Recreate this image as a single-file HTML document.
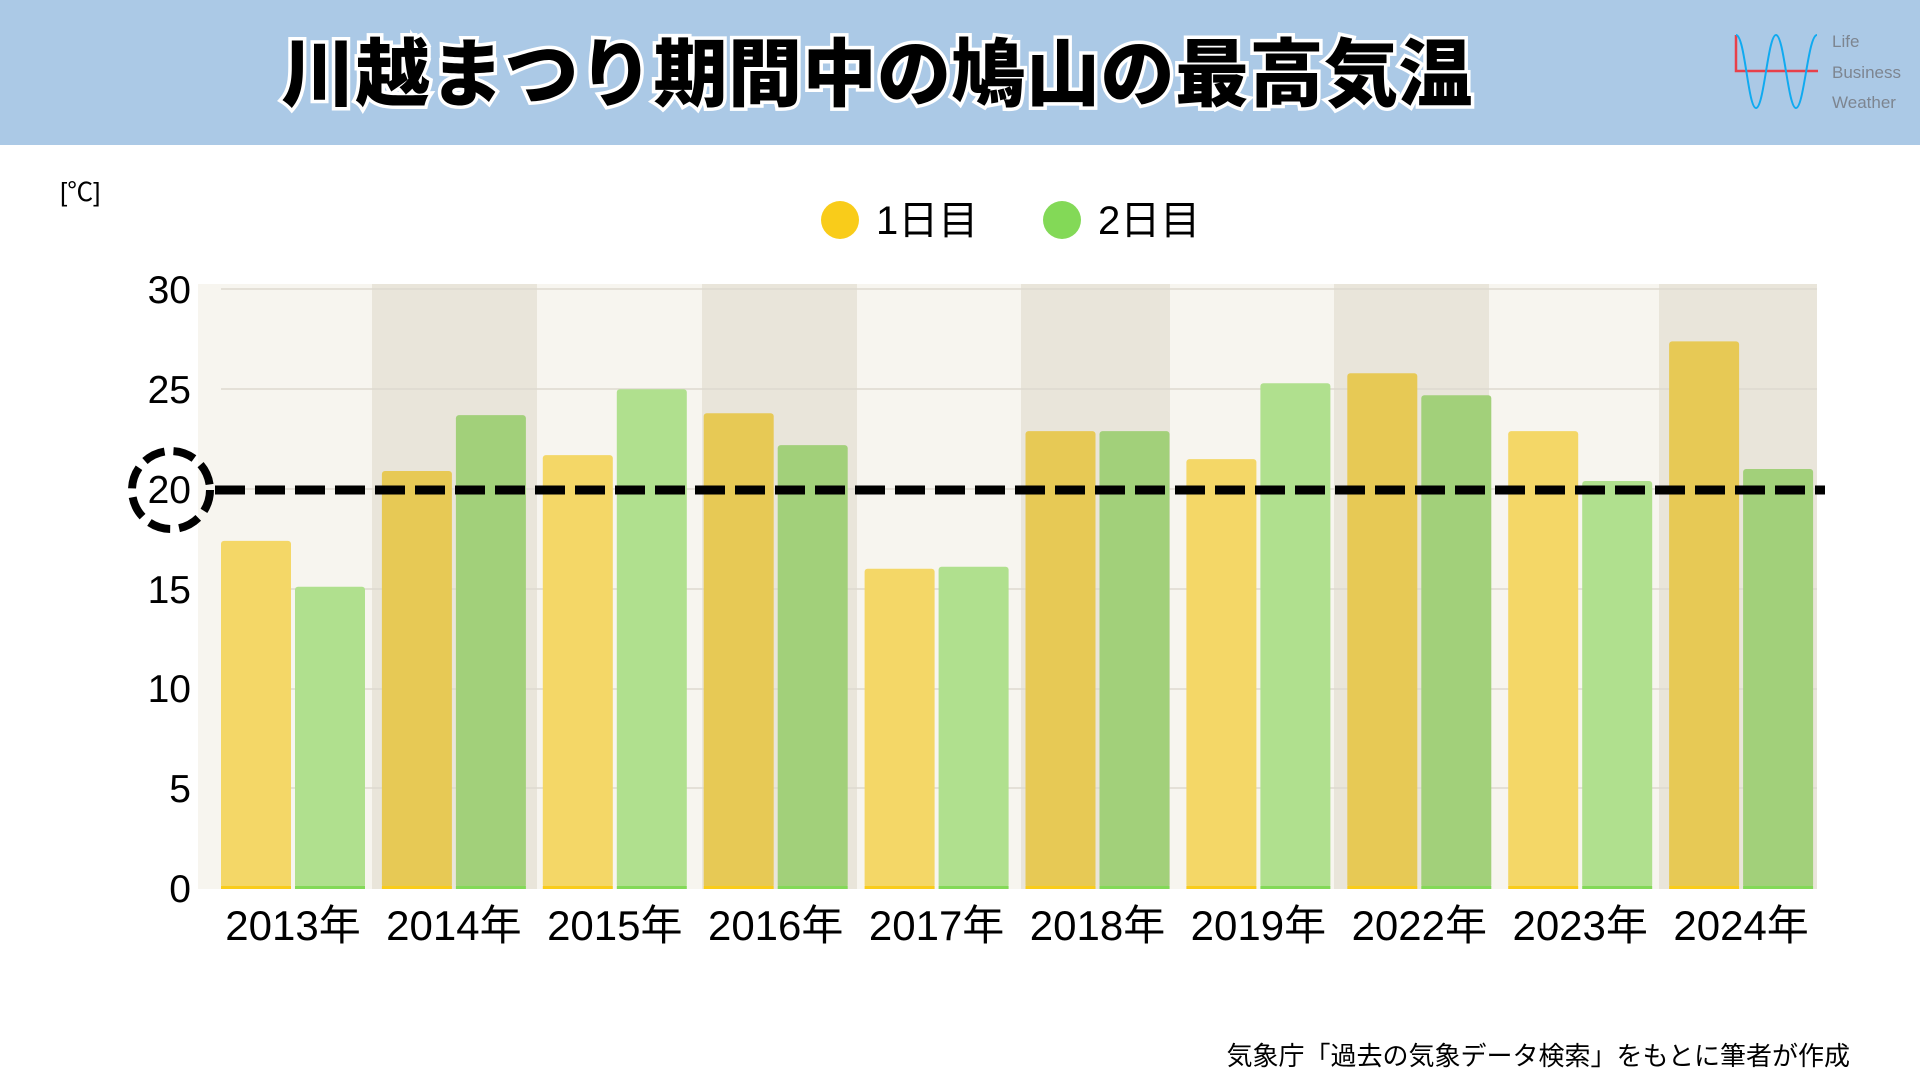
<!DOCTYPE html>
<html><head><meta charset="utf-8"><style>
html,body{margin:0;padding:0;background:#fff;}
svg{display:block;}
text{font-family:"Liberation Sans","Noto Sans CJK JP",sans-serif;}
</style></head><body>
<svg width="1920" height="1080" viewBox="0 0 1920 1080" xmlns="http://www.w3.org/2000/svg">
<rect x="0" y="0" width="1920" height="145" fill="#abc9e6"/>
<text x="877" y="100" text-anchor="middle" font-size="74" font-weight="900" letter-spacing="0.5" fill="#000" stroke="#fff" stroke-width="7" paint-order="stroke" style="font-family:'Noto Sans CJK JP',sans-serif;font-weight:900">川越まつり期間中の鳩山の最高気温</text>
<path d="M1736 35 V71 H1818" stroke="#e8404a" stroke-width="2.5" fill="none"/>
<path d="M1736 35 C1745 35,1748 108,1756 108 C1764 108,1768 35,1776 35 C1784 35,1788 108,1796 108 C1804 108,1808 35,1817 35" stroke="#10aaf0" stroke-width="2" fill="none"/>
<text x="1832" y="47" font-size="17" fill="#7d8590">Life</text>
<text x="1832" y="78" font-size="17" fill="#7d8590">Business</text>
<text x="1832" y="108" font-size="17" fill="#7d8590">Weather</text>
<text x="60" y="201" font-size="26" fill="#000">[℃]</text>
<circle cx="840" cy="220" r="19" fill="#f9cc1a"/>
<text x="876" y="234" font-size="40" fill="#000">1日目</text>
<circle cx="1062" cy="220" r="19" fill="#83d957"/>
<text x="1098" y="234" font-size="40" fill="#000">2日目</text>
<rect x="198" y="284" width="1619" height="605" fill="#f7f5ef"/>
<g fill="#e9e5da">
<rect x="372" y="284" width="165" height="605"/>
<rect x="702" y="284" width="155" height="605"/>
<rect x="1021" y="284" width="149" height="605"/>
<rect x="1334" y="284" width="155" height="605"/>
<rect x="1659" y="284" width="158" height="605"/>
</g>
<g stroke="#ddd9cf" stroke-width="1.5">
<line x1="221" x2="1817" y1="289" y2="289"/>
<line x1="221" x2="1817" y1="389" y2="389"/>
<line x1="221" x2="1817" y1="489" y2="489"/>
<line x1="221" x2="1817" y1="589" y2="589"/>
<line x1="221" x2="1817" y1="689" y2="689"/>
<line x1="221" x2="1817" y1="788" y2="788"/>
</g>
<g font-size="39" fill="#000" text-anchor="end">
<text x="191" y="303">30</text>
<text x="191" y="403">25</text>
<text x="191" y="503">20</text>
<text x="191" y="603">15</text>
<text x="191" y="702">10</text>
<text x="191" y="802">5</text>
<text x="191" y="902">0</text>
</g>
<g id="bars"></g>
<g font-size="42" fill="#000" text-anchor="middle" id="xl"></g>
<line x1="215" x2="1825" y1="490" y2="490" stroke="#000" stroke-width="9" stroke-dasharray="30 10"/>
<circle cx="171" cy="490" r="39" fill="none" stroke="#000" stroke-width="8" stroke-dasharray="22 9"/>
<text x="1850" y="1065" font-size="26" fill="#000" text-anchor="end">気象庁「過去の気象データ検索」をもとに筆者が作成</text>
</svg>
<script>
var d=[["2013",17.4,15.1],["2014",20.9,23.7],["2015",21.7,25.0],["2016",23.8,22.2],["2017",16.0,16.1],["2018",22.9,22.9],["2019",21.5,25.3],["2022",25.8,24.7],["2023",22.9,20.4],["2024",27.4,21.0]];
var ns="http://www.w3.org/2000/svg",g=document.getElementById("bars"),xl=document.getElementById("xl");
function r(x,y,w,h,f,rx){var e=document.createElementNS(ns,"rect");e.setAttribute("x",x);e.setAttribute("y",y);e.setAttribute("width",w);e.setAttribute("height",h);e.setAttribute("fill",f);if(rx)e.setAttribute("rx",rx);g.appendChild(e);}
d.forEach(function(v,i){var x=221+i*160.9,sh=i%2==1;
var y1=888-v[1]*19.95,y2=888-v[2]*19.95;
r(x,y1,70,888-y1,sh?"#e7c955":"#f4d767",3);r(x,886,70,3,"#f9cc1a");
r(x+74,y2,70,888-y2,sh?"#a2d07a":"#b0e08e",3);r(x+74,886,70,3,"#83d957");
var t=document.createElementNS(ns,"text");t.setAttribute("x",x+72);t.setAttribute("y",940);t.textContent=v[0]+"年";xl.appendChild(t);});
</script>
</body></html>
